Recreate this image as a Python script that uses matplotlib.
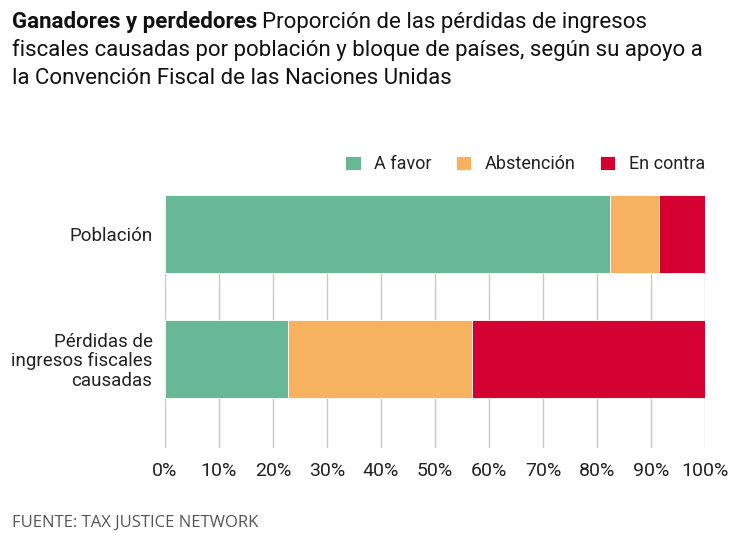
import matplotlib
matplotlib.use("Agg")
import numpy as np
from matplotlib import pyplot as plt

# ---------------------------------------
# Datos
# ---------------------------------------

categories = ["Población", "Pérdidas de\ningresos fiscales\ncausadas"]
a_favor = [82.4, 22.7]
abstencion = [9.0, 34.2]
en_contra = [8.6, 43.1]

series_names = ["A favor", "Abstención", "En contra"]
colors = ["#68b796", "#f6b25e", "#d50032"]
xticks = [0, 10, 20, 30, 40, 50, 60, 70, 80, 90, 100]
xtick_labels = [f"{t}%" for t in xticks]

plt.rcParams["font.family"] = ["Roboto", "DejaVu Sans"]

fig = plt.figure(figsize=(7.5, 5.33), dpi=100)
ax = fig.add_axes([0.22, 0.159, 0.72, 0.475])

# ---------------------------------------
# Barras apiladas
# ---------------------------------------

y = np.arange(len(categories))
left = np.zeros(len(categories))
for name, vals, col in zip(series_names, [a_favor, abstencion, en_contra], colors):
    ax.barh(y, vals, left=left, height=0.627, color=col, edgecolor="white",
            linewidth=0.6, label=name, zorder=3)
    left += np.array(vals)

ax.set_xlim(0, 100)
ax.set_ylim(1.72, -0.313)
ax.set_xticks(xticks)
ax.set_xticklabels(xtick_labels, fontsize=14, color="#222222")
ax.set_yticks(y)
ax.set_yticklabels(categories, fontsize=13.5, color="#222222", linespacing=1.1)
ax.tick_params(axis="x", length=0, pad=10)
ax.tick_params(axis="y", length=0, pad=9)
ax.grid(axis="x", color="#c8c8c8", linewidth=1, zorder=0)
for s in ax.spines.values():
    s.set_visible(False)

# ---------------------------------------
# Leyenda
# ---------------------------------------

leg = fig.legend(loc="upper right", bbox_to_anchor=(0.95, 0.722), ncol=3,
                 frameon=False, fontsize=13, handlelength=0.85, handleheight=0.85,
                 handletextpad=0.75, columnspacing=1.35, borderaxespad=0)
for t in leg.get_texts():
    t.set_color("#222222")

# ---------------------------------------
# Título
# ---------------------------------------

fig.canvas.draw()
r = fig.canvas.get_renderer()
t1 = fig.text(0.016, 0.9475, "Ganadores y perdedores", fontsize=16, fontweight="bold",
              color="#111111", va="baseline")
bb = t1.get_window_extent(renderer=r)
x2 = (bb.x1 + 5) / fig.bbox.width
fig.text(x2, 0.9475, "Proporción de las pérdidas de ingresos", fontsize=16,
         color="#111111", va="baseline")
fig.text(0.016, 0.894, "fiscales causadas por población y bloque de países, según su apoyo a",
         fontsize=16, color="#111111", va="baseline")
fig.text(0.016, 0.8415, "la Convención Fiscal de las Naciones Unidas",
         fontsize=16, color="#111111", va="baseline")

fig.text(0.016, 0.012, "FUENTE: TAX JUSTICE NETWORK", fontsize=12, color="#555555",
         family=["Open Sans", "DejaVu Sans"], va="baseline")

fig.savefig("out.png", dpi=100)
